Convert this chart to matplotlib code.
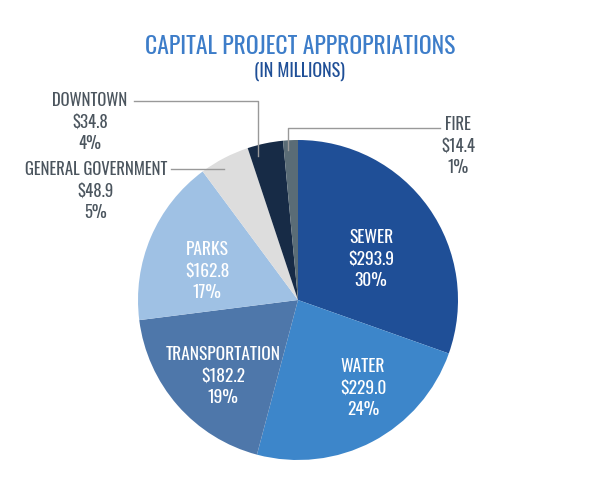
import matplotlib.pyplot as plt
import numpy as np

plt.rcParams['font.family'] = ['Oswald', 'Barlow Condensed', 'DejaVu Sans']

categories = ['SEWER', 'WATER', 'TRANSPORTATION', 'PARKS',
              'GENERAL GOVERNMENT', 'DOWNTOWN', 'FIRE']
values = [293.9, 229.0, 182.2, 162.8, 48.9, 34.8, 14.4]
percents = [30, 24, 19, 17, 5, 4, 1]
colors = ['#1f4f97', '#3d86ca', '#4e77aa', '#9fc1e4', '#dddddd', '#172b46', '#5a6c76']

fig = plt.figure(figsize=(6, 4.91), dpi=100)

# centre (298, 300) px, radius 160 px
ax = fig.add_axes([138 / 600, (491 - 460) / 491, 320 / 600, 320 / 491])
wedges, _ = ax.pie(values, colors=colors, startangle=90, counterclock=False,
                   radius=1, center=(0, 0), wedgeprops=dict(linewidth=0))
ax.set_xlim(-1, 1)
ax.set_ylim(-1, 1)
ax.set_aspect('auto')
ax.axis('off')

def px(x, y):
    # pixel position -> data coords
    return (x - 298) / 160, (300 - y) / 160

def label(i):
    return f"{categories[i]}\n${values[i]:.1f}\n{percents[i]}%"

# labels inside the pie
inside = {0: (371, 259), 1: (363, 388), 2: (223, 376), 3: (207, 271)}
for i, (x, y) in inside.items():
    ax.text(*px(x, y), label(i), ha='center', va='center', color='white',
            fontsize=12.5, linespacing=1.3)

# outside labels with leader lines
gray = '#4b555e'
line_c = '#999999'
ax.text(*px(90, 122), label(5), ha='center', va='center', color=gray,
        fontsize=12, linespacing=1.35, clip_on=False)
ax.plot(*zip(px(134, 101), px(258, 101), px(258, 156)), color=line_c, lw=1,
        clip_on=False)

ax.text(*px(96, 191), label(4), ha='center', va='center', color=gray,
        fontsize=12, linespacing=1.35, clip_on=False)
ax.plot(*zip(px(171, 169), px(224, 169)), color=line_c, lw=1, clip_on=False)

ax.text(*px(458, 146), label(6), ha='center', va='center', color=gray,
        fontsize=12, linespacing=1.35, clip_on=False)
ax.plot(*zip(px(288, 150), px(288, 128), px(440, 128)), color=line_c, lw=1,
        clip_on=False)

fig.text(0.5, 1 - 47 / 491, 'CAPITAL PROJECT APPROPRIATIONS', ha='center',
         va='center', color='#3d7dc9', fontsize=17)
fig.text(0.5, 1 - 71 / 491, '(IN MILLIONS)', ha='center', va='center',
         color='#1f4f97', fontsize=13)

fig.savefig('out.png', dpi=100, facecolor='white')
